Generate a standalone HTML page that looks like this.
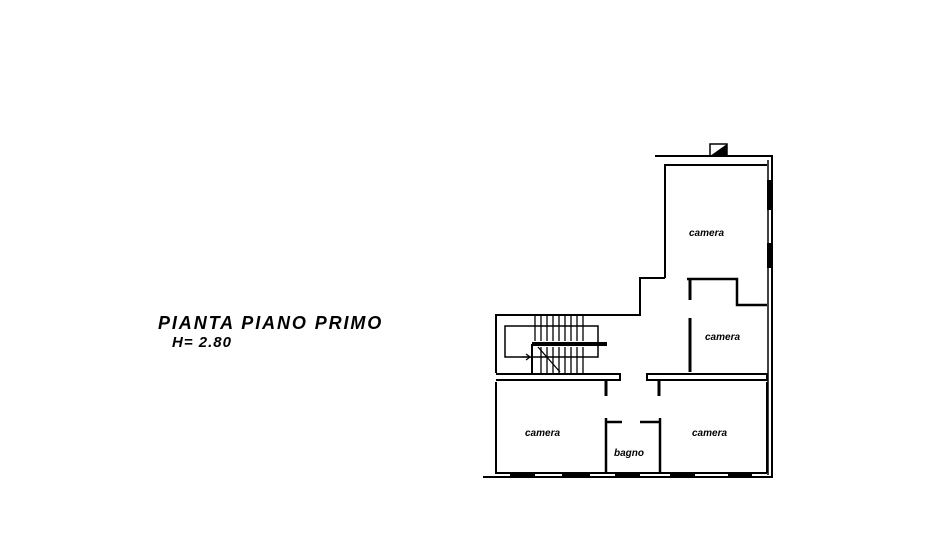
<!DOCTYPE html>
<html><head><style>
body{margin:0;background:#fff;width:940px;height:540px;overflow:hidden}
svg{display:block}
text{font-family:"Liberation Sans",sans-serif;font-style:italic;font-weight:bold;fill:#000}
</style></head><body>
<svg width="940" height="540" viewBox="0 0 940 540" xmlns="http://www.w3.org/2000/svg">
<g stroke="#000" fill="none" stroke-width="2">
<path d="M655 156 H772 V478"/>
<path d="M768 160 V475" stroke-width="1.5"/>
<rect x="767" y="180" width="4" height="30" fill="#000" stroke="none"/>
<rect x="767" y="243" width="4" height="25" fill="#000" stroke="none"/>
<polygon points="710,156 727,144 727,156" fill="#000" stroke="none"/>
<path d="M710 144 H727 V156 H710 Z" stroke-width="1.5"/>
<path d="M665 278 V165 H767"/>
<path d="M665 278 H640 V315 H496 V373"/>
<path d="M687 279 H737 V305 H767" stroke-width="2.5"/>
<path d="M690 280 V300" stroke-width="3"/>
<path d="M690 318 V372" stroke-width="3"/>
<path d="M496 374 H620 V380 H496"/>
<path d="M647 374 H767 V380 H647 Z"/>
<path d="M606 380 V396" stroke-width="3"/>
<path d="M659 380 V396" stroke-width="3"/>
<path d="M496 382 V473 H767"/>
<path d="M767 382 V473"/>
<path d="M606 418 V473" stroke-width="2.5"/>
<path d="M660 418 V473" stroke-width="2.5"/>
<path d="M606 422 H622 M640 422 H660" stroke-width="2.5"/>
<path d="M483 477 H772"/>
<g stroke-width="3">
<path d="M510 475 H535 M562 475 H590 M615 475 H640 M670 475 H695 M728 475 H752"/>
</g>
<path d="M505 326 H598 V357 H505 Z" stroke-width="1.5"/>
<path d="M532 344 H607" stroke-width="4"/>
<path d="M532 344 V373" stroke-width="2"/>
<g stroke-width="1.3">
<path d="M535 316 V341 M541 316 V341 M547 316 V341 M553 316 V341 M559 316 V341 M565 316 V341 M571 316 V341 M577 316 V341 M583 316 V341"/>
<path d="M541 347 V373 M547 347 V373 M553 347 V373 M559 347 V373 M565 347 V373 M571 347 V373 M577 347 V373 M583 347 V373"/>
<path d="M538 347 L560 372"/>
<path d="M522 357 l8 0 l-4 -3 m4 3 l-4 3"/>
</g>
</g>
<text x="158" y="329" font-size="18" letter-spacing="1.9">PIANTA PIANO PRIMO</text>
<text x="172" y="347" font-size="15" letter-spacing="1">H= 2.80</text>
<text x="689" y="236" font-size="10">camera</text>
<text x="705" y="340" font-size="10">camera</text>
<text x="525" y="436" font-size="10">camera</text>
<text x="692" y="436" font-size="10">camera</text>
<text x="614" y="456" font-size="10">bagno</text>
</svg>
</body></html>
